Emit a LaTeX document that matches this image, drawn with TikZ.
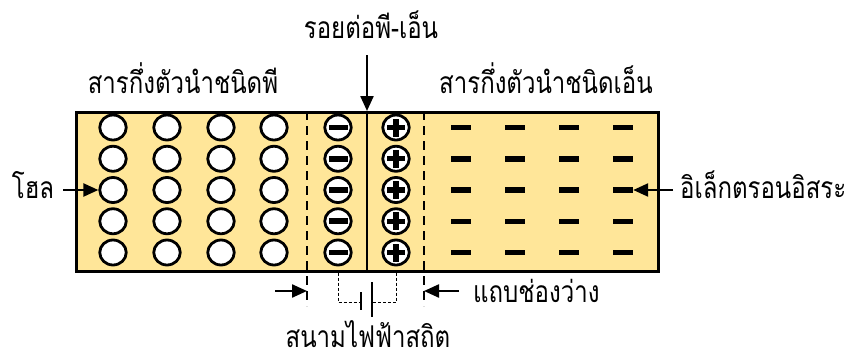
\documentclass[tikz,border=0pt]{standalone}
\usepackage{fontspec}
\newfontfamily\thai[Script=Thai, FakeStretch=0.8]{Loma}
\usetikzlibrary{arrows.meta,shapes.geometric,calc}
\definecolor{fillY}{HTML}{FFE699}
\begin{document}
\begin{tikzpicture}[x=1pt,y=-1pt,
  lbl/.style={font=\thai\fontsize{30}{34}\selectfont, inner sep=0pt, anchor=base, text depth=0pt},
  hole/.style={ellipse, draw, line width=2.8pt, fill=white, minimum width=26.5pt, minimum height=25pt, inner sep=0pt},
  ebar/.style={fill=black, minimum width=20pt, minimum height=5.5pt, inner sep=0pt},
  arr/.style={-{Triangle[length=15pt,width=13pt]}, line width=2.3pt},
  sepline/.style={line width=2pt, dash pattern=on 9pt off 6pt},
  wire/.style={line width=0.8pt, dash pattern=on 3pt off 2pt},
  plate/.style={line width=2pt}]
\useasboundingbox (0,0) rectangle (865,362);
% main block
\node[draw, line width=2.5pt, fill=fillY, minimum width=582pt, minimum height=159pt,
      inner sep=0pt, anchor=north west] (box) at (75,111) {};
% holes (p side)
\foreach \c/\x in {1/113,2/167,3/221,4/274}{
  \foreach \r/\y in {1/127.5,2/158.75,3/190,4/221.25,5/252.5}{
    \node[hole] (h-\c-\r) at (\x,\y) {};
  }
}
% ions in the depletion region
\foreach \r/\y in {1/127.5,2/158.75,3/190,4/221.25,5/252.5}{
  \node[hole] (m-\r) at (338,\y) {};
  \fill ($(m-\r)+(-9.5,-2.8)$) rectangle ++(19,5.6);
  \node[hole] (p-\r) at (396,\y) {};
  \fill ($(p-\r)+(-9,-2.7)$) rectangle ++(18,5.4);
  \fill ($(p-\r)+(-2.7,-9)$) rectangle ++(5.4,18);
}
% free electrons (n side)
\foreach \c/\x in {1/461,2/515,3/569,4/623}{
  \foreach \r/\y in {1/127.5,2/158.75,3/190,4/221.25,5/252.5}{
    \node[ebar] (e-\c-\r) at (\x,\y) {};
  }
}
% junction and depletion edges
\coordinate (jt) at (367,111);
\draw[line width=2pt] (jt) -- (jt |- box.south);
\coordinate (dl) at (307,111);
\coordinate (dr) at (424,111);
\coordinate (dlb) at (307,306);
\coordinate (drb) at (424,306);
\draw[sepline] (dl) -- (dlb);
\draw[sepline] (dr) -- (drb);
% labels
\node[lbl] (junc) at (371,38) {รอยต่อพี-เอ็น};
\node[lbl] (ptype) at (183,93) {สารกึ่งตัวนำชนิดพี};
\node[lbl] (ntype) at (546,93) {สารกึ่งตัวนำชนิดเอ็น};
\node[lbl] (holel) at (33,198) {โฮล};
\node[lbl, anchor=base west] (elecl) at (680,198) {อิเล็กตรอนอิสระ};
\node[lbl, anchor=base west] (gapl) at (473,302) {แถบช่องว่าง};
\node[lbl] (fieldl) at (368,347) {สนามไฟฟ้าสถิต};
% arrows
\coordinate (jtop) at (367,55);
\draw[arr] (jtop) -- (jt);
\coordinate (ht) at (63,190);
\draw[arr] (ht) -- (h-1-3.west);
\coordinate (et) at (673,190);
\draw[arr] (et) -- (e-4-3.east);
\coordinate (gl) at (275,291);
\draw[arr] (gl) -- (gl -| dl);
\coordinate (gr) at (459,291);
\draw[arr] (gr) -- (gr -| dr);
% static field battery
\coordinate (bl) at (m-5 |- box.south);
\coordinate (br) at (p-5 |- box.south);
\coordinate (pa) at (361,302);
\coordinate (pb) at (372,302);
\draw[wire] (bl) |- (pa);
\draw[wire] (br) |- (pb);
\draw[plate] ($(pa)+(0,-10)$) -- ($(pa)+(0,8)$);
\draw[plate] ($(pb)+(0,-20)$) -- ($(pb)+(0,15)$);
\end{tikzpicture}
\end{document}
